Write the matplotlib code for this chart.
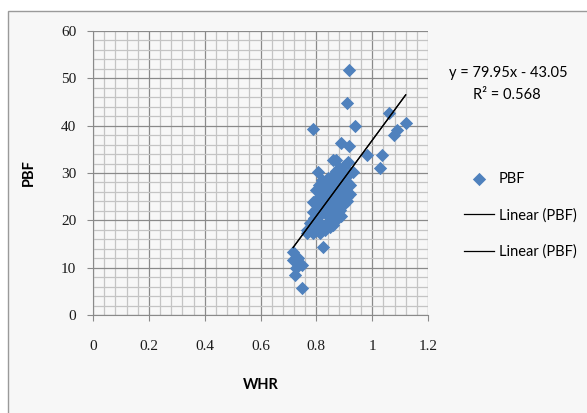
import numpy as np
import matplotlib.pyplot as plt
from matplotlib.patches import Rectangle
from matplotlib.ticker import MultipleLocator

# Datos (WHR vs PBF)
whr = [0.918, 0.909, 0.789, 0.940, 1.059, 1.120, 1.088, 1.078, 0.887, 0.918,
       0.980, 1.034, 1.028, 0.861, 0.914, 0.807, 0.932, 0.819, 0.885, 0.870,
       0.789, 0.789, 0.849, 0.885, 0.909, 0.765, 0.813, 0.849, 0.885, 0.789,
       0.825, 0.717, 0.717, 0.747, 0.723, 0.747, 0.765, 0.777, 0.735, 0.728,
       0.800, 0.810, 0.820, 0.830, 0.840, 0.850, 0.860, 0.870, 0.880, 0.890,
       0.900, 0.910, 0.920, 0.900, 0.880, 0.860, 0.840, 0.820, 0.800, 0.810,
       0.830, 0.850, 0.870, 0.890, 0.910, 0.900, 0.880, 0.860, 0.840, 0.820,
       0.800, 0.830, 0.850, 0.870, 0.890, 0.860, 0.840, 0.820, 0.850, 0.870,
       0.890, 0.880, 0.860, 0.840, 0.830, 0.810, 0.900, 0.920, 0.870, 0.850,
       0.830, 0.810, 0.790, 0.800, 0.860, 0.880, 0.910, 0.920, 0.890, 0.840,
       0.860]
pbf = [51.8, 44.7, 39.4, 39.9, 42.7, 40.6, 39.1, 38.0, 36.4, 35.6,
       33.7, 33.7, 31.1, 32.7, 32.4, 30.3, 30.3, 28.5, 29.2, 32.8,
       23.9, 21.8, 20.0, 22.2, 25.0, 17.3, 17.3, 22.9, 23.6, 17.3,
       14.4, 13.4, 11.6, 10.6, 8.5, 5.8, 18.0, 19.4, 12.0, 10.0,
       26.5, 25.0, 27.0, 26.0, 27.5, 28.0, 29.5, 30.5, 31.0, 30.0,
       29.0, 28.0, 27.5, 26.5, 26.0, 25.5, 24.5, 23.0, 22.5, 21.0,
       21.5, 23.5, 24.5, 25.5, 26.0, 23.5, 22.0, 21.0, 19.5, 19.0,
       19.5, 18.0, 18.5, 20.0, 21.0, 23.0, 22.0, 25.0, 26.5, 27.5,
       28.0, 29.0, 28.0, 29.0, 28.0, 27.5, 31.5, 30.0, 22.5, 21.0,
       24.0, 23.5, 20.5, 18.0, 19.0, 24.0, 24.0, 25.5, 23.0, 25.5,
       26.8]

# Ecuación de la tendencia mostrada en el gráfico
pendiente = 79.95
intercepto = -43.05
r2 = 0.568

fig = plt.figure(figsize=(5.87, 4.13), dpi=100, facecolor='white')
fig.patches.append(Rectangle((8 / 587, -0.01), 1.0, 1 - 11 / 413 + 0.01,
                             transform=fig.transFigure, facecolor='#f7f7f7',
                             edgecolor='#9a9a9a', linewidth=1.0, zorder=-1))

ax = fig.add_axes([93 / 587, 98 / 413, 335 / 587, 284 / 413])
ax.set_facecolor('#f7f7f7')

ax.set_xlim(0, 1.2)
ax.set_ylim(0, 60)
ax.xaxis.set_major_locator(MultipleLocator(0.2))
ax.xaxis.set_minor_locator(MultipleLocator(0.04))
ax.yaxis.set_major_locator(MultipleLocator(10))
ax.yaxis.set_minor_locator(MultipleLocator(2))
ax.set_xticks([0, 0.2, 0.4, 0.6, 0.8, 1.0, 1.2])
ax.set_xticklabels(['0', '0.2', '0.4', '0.6', '0.8', '1', '1.2'])

ax.grid(which='minor', color='#c4c4c4', linewidth=0.9)
ax.grid(which='major', color='#8a8a8a', linewidth=0.9)
ax.set_axisbelow(True)
for lado in ['top', 'right']:
    ax.spines[lado].set_visible(False)
for lado in ['left', 'bottom']:
    ax.spines[lado].set_color('#8a8a8a')

ax.tick_params(which='major', direction='out', length=4, color='#8a8a8a',
               labelsize=11, labelcolor='#1a1a1a')
ax.tick_params(axis='x', which='major', pad=14)
ax.tick_params(axis='y', which='major', pad=8)
ax.tick_params(which='minor', length=0)
for lbl in ax.get_xticklabels() + ax.get_yticklabels():
    lbl.set_family('Liberation Serif')

ax.scatter(whr, pbf, marker='D', s=46, color='#4f81bd', linewidths=0,
           label='PBF', zorder=3)

xs = np.array([min(whr), max(whr)])
for i in range(2):
    ax.plot(xs, pendiente * xs + intercepto, color='black', linewidth=0.9,
            label='Linear (PBF)', zorder=4)

ax.set_xlabel('WHR', family='Lato', fontweight='bold', fontsize=10.5,
              labelpad=18)
ax.set_ylabel('PBF', family='Lato', fontweight='bold', fontsize=10.5,
              labelpad=18)

fig.text(508 / 587, 1 - 73 / 413, f'y = {pendiente}x - {abs(intercepto)}',
         family='Lato', fontsize=10.5, ha='center', va='center')
fig.text(507 / 587, 1 - 95 / 413, f'R² = {r2}',
         family='Lato', fontsize=10.5, ha='center', va='center')

ax.legend(loc='upper left', bbox_to_anchor=(0.780, 0.597),
          bbox_transform=fig.transFigure, frameon=False, borderaxespad=0,
          prop={'family': 'Lato', 'size': 10.5}, handlelength=2.1,
          handletextpad=0.3, labelspacing=1.5, scatterpoints=1)

fig.savefig('out.png', dpi=100, facecolor=fig.get_facecolor())
